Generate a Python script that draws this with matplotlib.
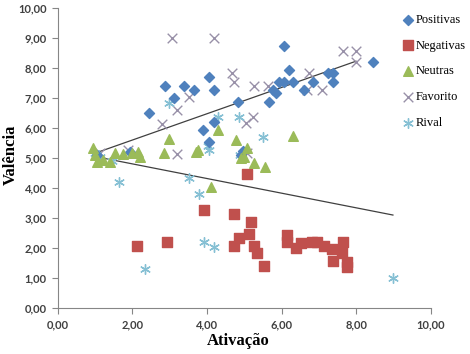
import numpy as np
import matplotlib
matplotlib.use("Agg")
import matplotlib.pyplot as plt
from matplotlib.ticker import FuncFormatter, MultipleLocator

# dados (ativacao, valencia)
pos_x = [2.44, 2.87, 3.38, 3.11, 3.65, 4.05, 4.18, 4.18, 3.90, 4.83, 6.06, 6.19, 5.92, 6.06,
         6.30, 5.76, 5.84, 5.66, 6.60, 6.84, 7.24, 7.37, 7.37, 8.45, 4.05, 4.96, 4.90, 1.93, 1.05]
pos_y = [6.50, 7.40, 7.40, 7.00, 7.27, 7.70, 7.27, 6.20, 5.95, 6.87, 8.73, 7.93, 7.53, 7.53,
         7.53, 7.27, 7.17, 6.87, 7.27, 7.53, 7.83, 7.83, 7.53, 8.20, 5.53, 5.25, 5.10, 5.20, 5.10]

neg_x = [3.91, 4.72, 5.17, 4.85, 5.12, 4.72, 5.25, 5.34, 5.52, 6.14, 6.14, 6.38, 6.51, 6.80,
         6.94, 7.13, 7.35, 7.37, 7.64, 7.61, 7.75, 7.75, 2.12, 2.92, 5.07]
neg_y = [3.27, 3.13, 2.87, 2.33, 2.47, 2.07, 2.07, 1.83, 1.40, 2.43, 2.20, 2.00, 2.17, 2.20,
         2.20, 2.07, 1.97, 1.57, 2.20, 1.83, 1.53, 1.37, 2.07, 2.20, 4.47]

neu_x = [0.95, 1.00, 1.05, 1.20, 1.40, 1.53, 1.74, 1.98, 2.14, 2.20, 2.84, 2.97, 3.70, 3.75,
         4.10, 4.29, 4.77, 5.07, 5.25, 5.55, 6.30, 4.90, 5.00]
neu_y = [5.35, 5.10, 4.87, 4.93, 4.87, 5.17, 5.13, 5.17, 5.20, 5.03, 5.17, 5.63, 5.20, 5.27,
         4.03, 5.93, 5.60, 5.35, 4.83, 4.70, 5.73, 5.00, 5.05]

fav_x = [3.06, 4.18, 4.66, 4.72, 3.51, 3.19, 2.79, 5.25, 5.63, 6.73, 6.68, 7.08, 7.64, 7.99,
         7.99, 5.23, 5.04, 3.19, 1.88, 1.13, 5.07]
fav_y = [9.00, 9.00, 7.83, 7.53, 7.03, 6.60, 6.13, 7.40, 7.40, 7.83, 7.27, 7.27, 8.57, 8.57,
         8.20, 6.37, 6.17, 5.13, 5.27, 5.17, 5.17]

riv_x = [1.00, 1.13, 1.45, 1.64, 2.33, 2.98, 3.51, 3.78, 3.91, 4.18, 4.29, 4.85, 4.02, 5.50,
         4.88, 8.98, 4.05]
riv_y = [5.17, 5.05, 4.90, 4.20, 1.30, 6.83, 4.33, 3.80, 2.20, 2.03, 6.37, 6.37, 5.40, 5.70,
         5.10, 1.00, 5.27]

# linhas de tendencia (inicio e fim)
trend_fav_x = [1.13, 7.99]
trend_fav_y = [5.22, 8.23]
trend_riv_x = [1.00, 8.98]
trend_riv_y = [5.05, 3.10]

fig = plt.figure(figsize=(4.7, 3.54), dpi=100)
ax = fig.add_axes([0.123, 0.130, 0.794, 0.847])

ax.plot(trend_fav_x, trend_fav_y, color="#404040", lw=0.9, zorder=1)
ax.plot(trend_riv_x, trend_riv_y, color="#404040", lw=0.9, zorder=1)

ax.scatter(pos_x, pos_y, marker="D", s=26, color="#4F81BD", label="Positivas", zorder=3)
ax.scatter(neg_x, neg_y, marker="s", s=48, color="#C0504D", label="Negativas", zorder=3)
ax.scatter(neu_x, neu_y, marker="^", s=48, color="#9BBB59", label="Neutras", zorder=3)
ax.scatter(fav_x, fav_y, marker="x", s=48, color="#9890a8", linewidths=1.0, label="Favorito", zorder=2)
ax.scatter(riv_x, riv_y, marker=(6, 2, 0), s=48, color="#86c0d4", linewidths=1.0, label="Rival", zorder=2)

ax.set_xlim(0, 10)
ax.set_ylim(0, 10)
ax.xaxis.set_major_locator(MultipleLocator(2))
ax.yaxis.set_major_locator(MultipleLocator(1))
fmt = FuncFormatter(lambda v, p: f"{v:.2f}".replace(".", ","))
ax.xaxis.set_major_formatter(fmt)
ax.yaxis.set_major_formatter(fmt)

for s in ["top", "right"]:
    ax.spines[s].set_visible(False)
for s in ["left", "bottom"]:
    ax.spines[s].set_color("#868686")
    ax.spines[s].set_linewidth(0.8)
ax.tick_params(colors="#868686", length=4, width=0.8, labelcolor="#404040", pad=4)
for lab in ax.get_xticklabels() + ax.get_yticklabels():
    lab.set_fontfamily("Lato")
    lab.set_fontweight("bold")
    lab.set_fontsize(8)

ax.set_xlabel("Ativação", fontfamily="Liberation Serif", fontweight="bold", fontsize=12)
ax.set_ylabel("Valência", fontfamily="Liberation Serif", fontweight="bold", fontsize=12)
ax.xaxis.set_label_coords(0.483, -0.083)
ax.yaxis.set_label_coords(-0.105, 0.51)

leg = fig.legend(loc="upper left", bbox_to_anchor=(0.842, 0.975), frameon=False,
                 prop={"family": "Liberation Serif", "size": 9},
                 handletextpad=0.0, labelspacing=1.1, handlelength=1.2, borderaxespad=0)

fig.savefig("out.png", dpi=100, facecolor="white")
